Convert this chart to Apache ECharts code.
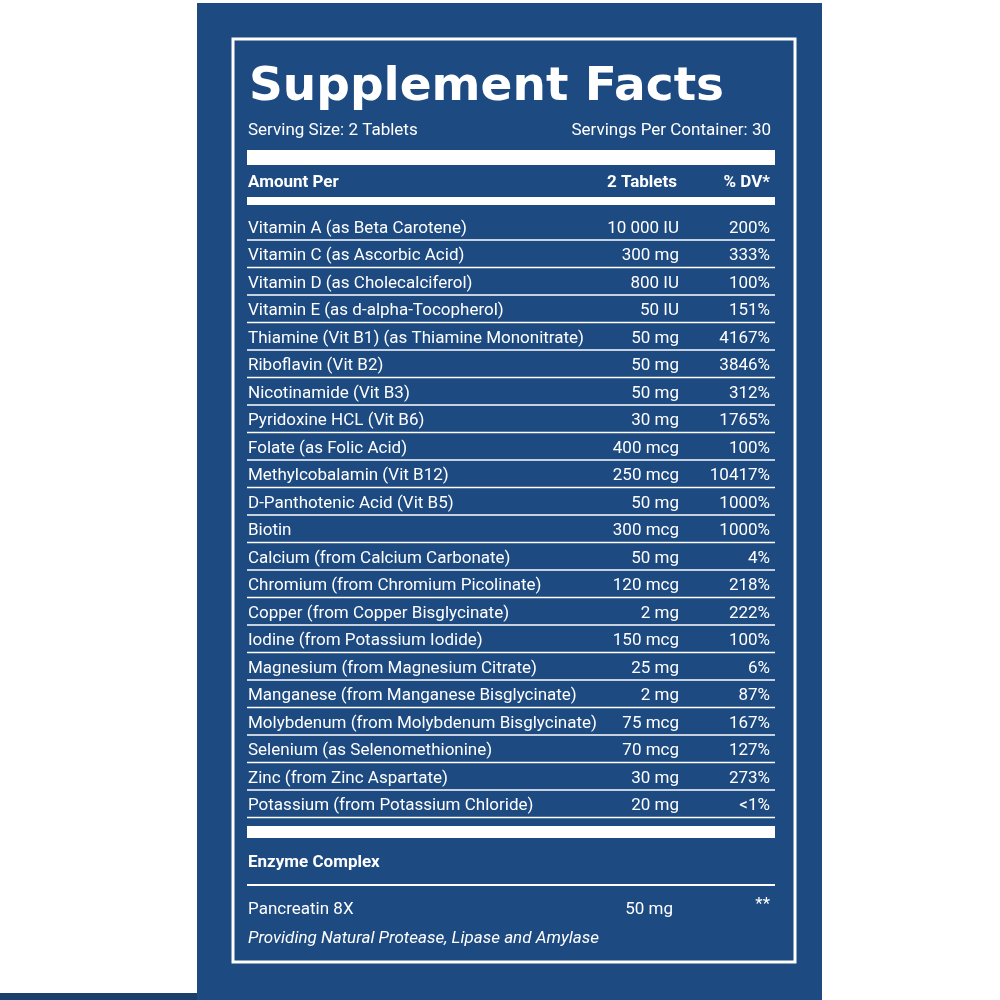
<!DOCTYPE html>
<html><head><meta charset="utf-8">
<script src="https://cdn.jsdelivr.net/npm/echarts@6/dist/echarts.min.js"></script>
<style>html,body{margin:0;padding:0;background:#fff}#c{width:1000px;height:1000px}</style>
</head><body><div id="c"></div>
<script>
const nutrients = ["Vitamin A (as Beta Carotene)","Vitamin C (as Ascorbic Acid)","Vitamin D (as Cholecalciferol)","Vitamin E (as d-alpha-Tocopherol)","Thiamine (Vit B1) (as Thiamine Mononitrate)","Riboflavin (Vit B2)","Nicotinamide (Vit B3)","Pyridoxine HCL (Vit B6)","Folate (as Folic Acid)","Methylcobalamin (Vit B12)","D-Panthotenic Acid (Vit B5)","Biotin","Calcium (from Calcium Carbonate)","Chromium (from Chromium Picolinate)","Copper (from Copper Bisglycinate)","Iodine (from Potassium Iodide)","Magnesium (from Magnesium Citrate)","Manganese (from Manganese Bisglycinate)","Molybdenum (from Molybdenum Bisglycinate)","Selenium (as Selenomethionine)","Zinc (from Zinc Aspartate)","Potassium (from Potassium Chloride)"];
const amounts = ["10 000 IU","300 mg","800 IU","50 IU","50 mg","50 mg","50 mg","30 mg","400 mcg","250 mcg","50 mg","300 mcg","50 mg","120 mcg","2 mg","150 mcg","25 mg","2 mg","75 mcg","70 mcg","30 mg","20 mg"];
const dvs = ["200%","333%","100%","151%","4167%","3846%","312%","1765%","100%","10417%","1000%","1000%","4%","218%","222%","100%","6%","87%","167%","127%","273%","<1%"];
const title = "Supplement Facts";
const servingSize = "Serving Size: 2 Tablets";
const servingsPer = "Servings Per Container: 30";
const headers = ["Amount Per","2 Tablets","% DV*"];
const enzymeTitle = "Enzyme Complex";
const enzymeRow = ["Pancreatin 8X","50 mg","**"];
const enzymeNote = "Providing Natural Protease, Lipase and Amylase";

const BLUE = "#1d4a80";
const F = "'Liberation Sans Narrow','Roboto','Liberation Sans',sans-serif";
const chart = echarts.init(document.getElementById('c'));
const rowData = nutrients.map((n,i)=>[i,n,amounts[i],dvs[i]]);
function txt(x,y,t,o){return {type:'text',x:x,y:y,style:Object.assign({text:t,fill:'#fff',font:'17px '+F,textVerticalAlign:'middle'},o||{})};}
function rect(x,y,w,h,fill,stroke,lw){return {type:'rect',shape:{x:x,y:y,width:w,height:h},style:{fill:fill||'#fff',stroke:stroke||null,lineWidth:lw||0}};}
chart.setOption({
  backgroundColor:'#fff',animation:false,
  grid:{left:247,width:528,top:214.5,height:605},
  xAxis:{type:'value',min:0,max:1,show:false},
  yAxis:{type:'value',min:-0.5,max:21.5,inverse:true,show:false},
  graphic:[
    rect(197,3,625,997,BLUE),
    rect(0,993,197,7,'#1b3f6b'),
    {type:'rect',shape:{x:233,y:39,width:562,height:923},style:{fill:null,stroke:'#fff',lineWidth:3}},
    txt(249,88,title,{font:'bold 47px "DejaVu Sans",sans-serif'}),
    txt(248,131,servingSize),
    txt(771,131,servingsPer,{textAlign:'right'}),
    rect(247,150,528,15),
    txt(248,183,headers[0],{font:'bold 17px '+F}),
    txt(677,183,headers[1],{font:'bold 17px '+F,textAlign:'right'}),
    txt(770,183,headers[2],{font:'bold 17px '+F,textAlign:'right'}),
    rect(247,197,528,8),
    rect(247,826,528,12),
    txt(248,863,enzymeTitle,{font:'bold 17px '+F}),
    rect(247,884,528,2),
    txt(248,910,enzymeRow[0]),
    txt(673,910,enzymeRow[1],{textAlign:'right'}),
    txt(770,905,enzymeRow[2],{textAlign:'right'}),
    txt(248,939,enzymeNote,{font:'italic 17px '+F})
  ],
  series:[{type:'custom',data:rowData,renderItem:function(params,api){
    const p=api.coord([0,api.value(0)]);
    const y=p[1], i=api.value(0);
    return {type:'group',children:[
      txt(248,y,nutrients[i]),
      txt(679,y,amounts[i],{textAlign:'right'}),
      txt(770,y,dvs[i],{textAlign:'right'}),
      rect(247,y+11,528,1.5)
    ]};
  }}]
});
</script></body></html>
